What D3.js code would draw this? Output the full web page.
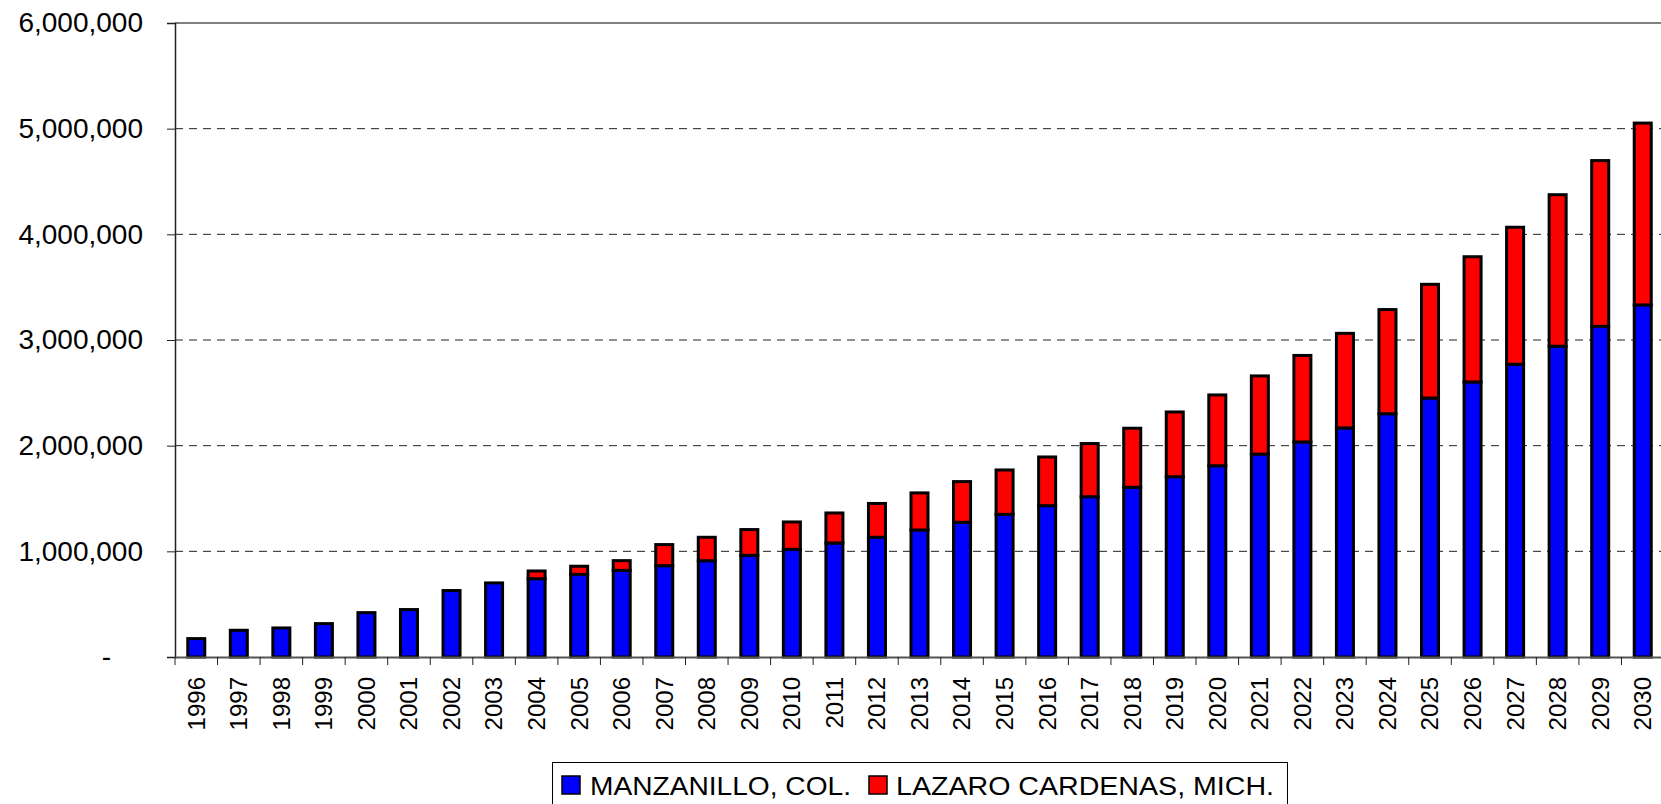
<!DOCTYPE html>
<html lang="en">
<head>
  <meta charset="UTF-8" />
  <title>Manzanillo vs Lazaro Cardenas</title>
  <script src="https://d3js.org/d3.v7.min.js"></script>
  <style>
    body {
      margin: 0;
      background: #fff;
      font-family: 'Liberation Sans', Arial, sans-serif;
    }
    svg { display: block; }
    .grid line { stroke: #222; stroke-width: 1px; stroke-dasharray: 8 6; }
    .bar { stroke: #000; stroke-width: 3px; }
  </style>
</head>
<body>
  <svg id="chart" width="1661" height="804"></svg>

  <script>
    // Data (TEU per year)
    const years = ["1996","1997","1998","1999","2000","2001","2002","2003","2004","2005",
      "2006","2007","2008","2009","2010","2011","2012","2013","2014","2015",
      "2016","2017","2018","2019","2020","2021","2022","2023","2024","2025",
      "2026","2027","2028","2029","2030"];

    const manzanillo = [174000, 253000, 275000, 316000, 420000, 449000, 629000, 701000, 741000, 782000,
      820000, 864000, 911000, 962000, 1019000, 1079000, 1133000, 1202000, 1275000, 1350000,
      1432000, 1517000, 1606000, 1706000, 1810000, 1920000, 2035000, 2168000, 2302000, 2451000,
      2603000, 2770000, 2941000, 3129000, 3332000];

    const lazaro = [0, 0, 0, 0, 0, 0, 0, 0, 73000, 77000,
      92000, 200000, 222000, 244000, 259000, 284000, 320000, 351000, 385000, 420000,
      461000, 503000, 559000, 613000, 670000, 740000, 819000, 895000, 986000, 1076000,
      1185000, 1297000, 1434000, 1569000, 1721000];

    const seriesNames = ["MANZANILLO, COL.", "LAZARO CARDENAS, MICH."];
    const seriesColors = ["#0000ff", "#ff0000"];
    const yTicks = [0, 1000000, 2000000, 3000000, 4000000, 5000000, 6000000];

    const svg = d3.select("#chart");
    const plotLeft = 175, plotTop = 23, plotRight = 1664, plotBottom = 657;

    const rows = years.map((yr, i) => ({ year: yr, m: manzanillo[i], l: lazaro[i] }));
    const stacked = d3.stack().keys(["m", "l"])(rows);

    const x = d3.scaleBand().domain(years).range([plotLeft, plotRight]).padding(0);
    const y = d3.scaleLinear().domain([0, 6000000]).range([plotBottom, plotTop]);
    const barW = x.bandwidth() * 0.40;

    // gridlines
    svg.append("g").attr("class", "grid")
      .selectAll("line")
      .data(yTicks.filter(d => d > 0 && d < 6000000))
      .enter().append("line")
      .attr("x1", plotLeft).attr("x2", plotRight)
      .attr("y1", d => y(d)).attr("y2", d => y(d));

    // top border of plot area
    svg.append("line")
      .attr("x1", plotLeft).attr("x2", plotRight)
      .attr("y1", y(6000000)).attr("y2", y(6000000))
      .attr("stroke", "#808080").attr("stroke-width", 2);

    // stacked bars
    svg.append("g").selectAll("g")
      .data(stacked)
      .enter().append("g")
      .attr("fill", (d, i) => seriesColors[i])
      .selectAll("rect")
      .data(d => d.filter(p => p[1] - p[0] > 0))
      .enter().append("rect")
      .attr("class", "bar")
      .attr("x", d => x(d.data.year) + (x.bandwidth() - barW) / 2)
      .attr("width", barW)
      .attr("y", d => y(d[1]))
      .attr("height", d => y(d[0]) - y(d[1]));

    // y axis
    const yAxis = svg.append("g")
      .attr("transform", `translate(${plotLeft},0)`)
      .call(d3.axisLeft(y).tickValues(yTicks).tickSize(8).tickPadding(24)
        .tickFormat(d => d === 0 ? "-" : d3.format(",")(d)));
    yAxis.select(".domain").attr("stroke", "#222").attr("stroke-width", 1.5);
    yAxis.selectAll(".tick line").attr("stroke", "#222");
    yAxis.selectAll("text")
      .attr("font-family", "'Liberation Sans', Arial, sans-serif")
      .attr("font-size", 28).attr("fill", "#000")
      .filter(d => d === 0).attr("x", -64);

    // x axis with labels rotated, ticks between categories
    const xAxis = svg.append("g")
      .attr("transform", `translate(0,${plotBottom})`)
      .call(d3.axisBottom(x).tickSize(0).tickSizeOuter(0));
    xAxis.select(".domain").attr("stroke", "#555").attr("stroke-width", 2);
    xAxis.selectAll("text")
      .attr("font-family", "'Liberation Sans', Arial, sans-serif")
      .attr("font-size", 24).attr("fill", "#000")
      .attr("transform", "rotate(-90)")
      .attr("text-anchor", "end")
      .attr("x", -20).attr("y", 0).attr("dy", "0.35em");
    xAxis.selectAll(".sep")
      .data(years)
      .enter().append("line")
      .attr("x1", d => x(d)).attr("x2", d => x(d))
      .attr("y1", 0).attr("y2", 8)
      .attr("stroke", "#222");

    // legend
    const lg = svg.append("g");
    lg.append("rect")
      .attr("x", 552.5).attr("y", 762.5).attr("width", 735).attr("height", 60)
      .attr("fill", "#fff").attr("stroke", "#000").attr("stroke-width", 1);
    const legendItems = [
      { sx: 562, tx: 590, len: 261 },
      { sx: 869, tx: 896, len: 378 }
    ];
    legendItems.forEach((it, i) => {
      lg.append("rect")
        .attr("x", it.sx).attr("y", 776).attr("width", 18).attr("height", 18)
        .attr("fill", seriesColors[i]).attr("stroke", "#000").attr("stroke-width", 1.5);
      lg.append("text")
        .attr("x", it.tx).attr("y", 795)
        .attr("font-size", 26)
        .attr("textLength", it.len).attr("lengthAdjust", "spacingAndGlyphs")
        .text(seriesNames[i]);
    });
  </script>
</body>
</html>
